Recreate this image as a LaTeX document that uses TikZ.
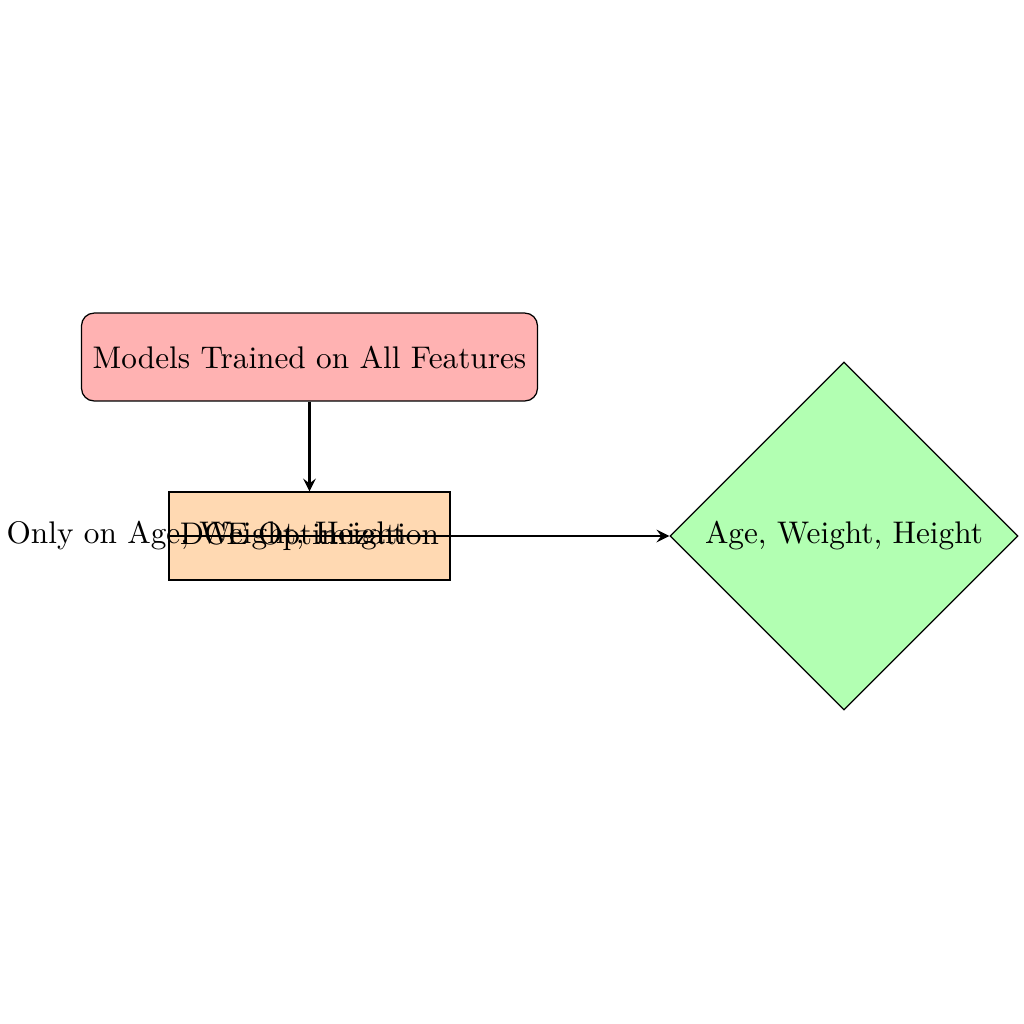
\documentclass[tikz,border=0pt]{standalone}
\usetikzlibrary{shapes.geometric,arrows.meta}
\begin{document}
\begin{tikzpicture}[x=0.3198pt,y=-0.3198pt,
  modelbox/.style={draw,rounded corners=4pt,fill=red!30,minimum width=145.8pt,minimum height=28.1pt,inner sep=0pt},
  procbox/.style={draw,fill=orange!30,minimum width=89.9pt,minimum height=28.1pt,inner sep=0pt},
  resdiamond/.style={draw,diamond,aspect=1,fill=green!30,minimum width=111.3pt,minimum height=111.3pt,inner sep=0pt},
  conn/.style={thick,-stealth}]
\useasboundingbox (0,0) rectangle (1024,1024);
\node[modelbox] (models) at (309.5,357) {Models Trained on All Features};
\node[procbox] (dce) at (309.5,536) {DCE Optimization};
\node[resdiamond] (feat) at (844,536) {Age, Weight, Height};
\draw[conn] (models) -- (dce);
\draw[conn] (dce.west) -- (feat.west);
\node (lbl) at (206,536) {Only on Age, Weight, Height};
\end{tikzpicture}
\end{document}
